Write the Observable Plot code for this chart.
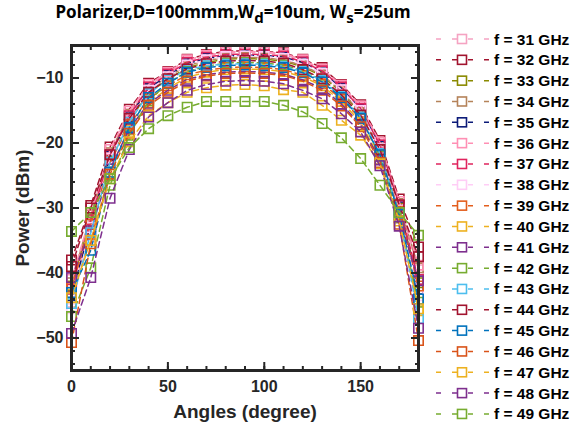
<!DOCTYPE html>
<html><head><meta charset="utf-8">
<script src="https://cdn.jsdelivr.net/npm/d3@7"></script>
<script src="https://cdn.jsdelivr.net/npm/@observablehq/plot@0.6"></script>
<style>
body{margin:0;background:#fff;}
#wrap{position:relative;width:572px;height:425px;overflow:hidden;background:#fff;}
#title{position:absolute;top:0px;left:40px;width:386px;text-align:center;font:bold 17px "Noto Sans",sans-serif;color:#000;white-space:nowrap;line-height:24px;}
#title sub{font-size:15px;vertical-align:-5px;line-height:0;}
#legend{position:absolute;left:430px;top:28px;}
#chart{position:absolute;left:0;top:0;}
</style>
</head><body>
<div id="wrap"><div id="chart"></div><div id="title">Polarizer,D=100mmm,W<sub>d</sub>=10um, W<sub>s</sub>=25um</div><div id="legend"></div></div>
<script>
const angles = [0,10,20,30,40,50,60,70,80,90,100,110,120,130,140,150,160,170,180];
const freqs = [31,32,33,34,35,36,37,38,39,40,41,42,43,44,45,46,47,48,49];
const colors = ["#f5a3c2","#a2142f","#8a8a00","#b5835a","#0b1a78","#ff8fb4","#e0245e","#ffcdf6","#e35e1d","#edb120","#7e2f8e","#77ac30","#4dbeee","#a2142f","#0072bd","#d95319","#edb120","#7e2f8e","#77ac30"];
const xTickLabels = [0,50,100,150];
const yTickLabels = [-50,-40,-30,-20,-10];

const f31 = [-44.5,-32,-21.5,-15.5,-11.3,-9.2,-7.4,-6.6,-6.1,-6.0,-6.1,-6.4,-7.3,-8.7,-11.3,-14.5,-20.2,-29.5,-39.5];
const f32 = [-38,-29.6,-20.6,-14.8,-10.8,-9.0,-7.1,-6.4,-5.9,-5.8,-5.9,-6.1,-7.1,-8.4,-11.0,-14.1,-19.6,-28.6,-36];
const f33 = [-42,-31.5,-22.5,-16.5,-12.3,-10.2,-8.4,-7.6,-7.1,-7.0,-7.1,-7.4,-8.3,-9.7,-12.2,-15.4,-21,-30,-41.5];
const f34 = [-41.5,-31,-21.5,-15.6,-11.8,-9.8,-8.1,-7.3,-6.9,-6.8,-6.9,-7.2,-8.1,-9.5,-12.0,-15.3,-20.8,-29.3,-39.2];
const f35 = [-43.5,-32.5,-22,-16,-11.6,-9.6,-7.8,-7.0,-6.6,-6.5,-6.5,-6.8,-7.6,-9.0,-11.6,-14.8,-20.5,-29.8,-42.5];
const f36 = [-41,-31,-21,-15.1,-11.0,-9.1,-7.2,-6.5,-6.0,-5.9,-6.0,-6.2,-7.2,-8.6,-11.1,-14.3,-19.9,-29,-38.8];
const f37 = [-42.5,-31.8,-21.8,-15.8,-11.4,-9.4,-7.6,-6.8,-6.4,-6.3,-6.4,-6.6,-7.5,-8.9,-11.4,-14.7,-20.3,-29.6,-41];
const f38 = [-45.5,-33,-22.3,-16.2,-11.9,-9.8,-8.0,-7.2,-6.7,-6.6,-6.7,-7.0,-7.9,-9.3,-11.8,-15.0,-20.9,-30.3,-43.5];
const f39 = [-42.2,-32.5,-23,-17.2,-13.2,-11.2,-9.5,-8.8,-8.4,-8.3,-8.4,-8.7,-9.6,-10.9,-13.2,-16.3,-21.8,-30.5,-42];
const f40 = [-43.3,-35,-24.5,-18,-13.8,-11.6,-9.9,-9.1,-8.7,-8.6,-8.7,-9.0,-9.8,-11.2,-13.6,-16.8,-22.5,-31,-45.8];
const f41 = [-40.7,-33.5,-24,-17.8,-13.9,-11.9,-10.2,-9.5,-9.1,-9.0,-9.1,-9.4,-10.3,-11.6,-14,-17.2,-22.6,-31.5,-41.2];
const f42 = [-46.7,-39.2,-26.5,-18.8,-13.5,-10.8,-9.0,-8.2,-7.7,-7.6,-7.7,-8.0,-8.9,-10.3,-12.8,-16,-22,-31.5,-44.5];
const f43 = [-44.7,-33.8,-23,-16.8,-12.4,-10.3,-8.7,-8.1,-7.9,-7.8,-7.9,-8.2,-9.0,-10.4,-12.8,-16,-21.6,-30.8,-47];
const f44 = [-39,-30,-21.8,-16.2,-12.2,-10.1,-8.6,-7.8,-7.4,-7.3,-7.4,-7.7,-8.7,-10.1,-12.6,-15.7,-21,-29.5,-37.5];
const f45 = [-43,-36.5,-24.5,-17.6,-13,-10.8,-9.1,-8.4,-8.1,-8.0,-8.1,-8.4,-9.2,-10.6,-13,-16.2,-21.8,-31,-44];
const f46 = [-50.7,-35.5,-24.8,-18.5,-14.2,-12.2,-10.5,-9.7,-9.3,-9.2,-9.3,-9.6,-10.5,-11.9,-14.3,-17.5,-23,-32.5,-50.4];
const f47 = [-43.8,-35,-25.5,-19.8,-15.8,-13.8,-12.2,-11.5,-11.1,-11.0,-11.2,-11.8,-12.2,-14.2,-16.5,-18.8,-23.2,-32,-45.5];
const f48 = [-49.3,-40.7,-28.5,-21,-16,-13.8,-11.9,-11.0,-10.5,-10.4,-10.5,-10.9,-11.9,-13.2,-15.5,-18.3,-23.5,-32.8,-48.5];
const f49 = [-33.6,-30.7,-25.5,-20.7,-17.8,-15.8,-14.5,-13.6,-13.6,-13.6,-13.6,-14.2,-15.2,-17.0,-19.2,-22.4,-26.5,-30.7,-34.2];

const seriesValues = [f31,f32,f33,f34,f35,f36,f37,f38,f39,f40,f41,f42,f43,f44,f45,f46,f47,f48,f49];
const labels = freqs.map(f => `f = ${f} GHz`);

const seriesMarks = [];
seriesValues.forEach((vals, i) => {
  const d = angles.map((a, j) => ({angle: a, power: vals[j], f: labels[i]}));
  seriesMarks.push(Plot.line(d, {x: "angle", y: "power", stroke: "f", strokeWidth: 1.5, strokeDasharray: "6,4"}));
  seriesMarks.push(Plot.dot(d, {x: "angle", y: "power", stroke: "f", symbol: "square", r: 5.3, strokeWidth: 1.6, fill: "none"}));
});

const axColor = "#262626";
const tickFont = {fontSize: 16, fontWeight: "bold", fontFamily: "Liberation Sans, Arial, sans-serif"};
const xMajor = d3.range(0, 181, 50), xMinor = d3.range(0, 181, 10);
const yMajor = d3.range(-50, -4, 10), yMinor = d3.range(-54, -4, 2);

const chart = Plot.plot({
  width: 572, height: 425,
  marginLeft: 71, marginRight: 154, marginTop: 45, marginBottom: 55,
  x: {domain: [0, 180]},
  y: {domain: [-55, -5]},
  color: {domain: labels, range: colors},
  style: {background: "white", overflow: "visible"},
  marks: [
    ...seriesMarks,
    Plot.axisX(xMinor, {anchor: "bottom", tickSize: 4, dy: -4, text: null, stroke: axColor, strokeWidth: 2, label: null}),
    Plot.axisX(xMajor, {anchor: "bottom", tickSize: 8, dy: -8, text: null, stroke: axColor, strokeWidth: 2, label: null}),
    Plot.axisX(xMinor, {anchor: "top", tickSize: 4, dy: 4, text: null, stroke: axColor, strokeWidth: 2, label: null}),
    Plot.axisX(xMajor, {anchor: "top", tickSize: 8, dy: 8, text: null, stroke: axColor, strokeWidth: 2, label: null}),
    Plot.axisY(yMinor, {anchor: "left", tickSize: 4, dx: 4, text: null, stroke: axColor, strokeWidth: 2, label: null}),
    Plot.axisY(yMajor, {anchor: "left", tickSize: 8, dx: 8, text: null, stroke: axColor, strokeWidth: 2, label: null}),
    Plot.axisY(yMinor, {anchor: "right", tickSize: 4, dx: -4, text: null, stroke: axColor, strokeWidth: 2, label: null}),
    Plot.axisY(yMajor, {anchor: "right", tickSize: 8, dx: -8, text: null, stroke: axColor, strokeWidth: 2, label: null}),
    Plot.axisX(xTickLabels, {anchor: "bottom", tickSize: 0, tickPadding: 10, fill: axColor, ...tickFont,
      label: "Angles (degree)", labelAnchor: "center", labelOffset: 47, labelArrow: "none"}),
    Plot.axisY(yTickLabels, {anchor: "left", tickSize: 0, tickPadding: 8, fill: axColor, ...tickFont,
      label: "Power (dBm)", labelAnchor: "center", labelOffset: 56, labelArrow: "none"}),
    Plot.frame({stroke: axColor, strokeWidth: 3})
  ]
});
document.getElementById("chart").appendChild(chart);
d3.select(chart).selectAll("[aria-label='x-axis label'] text, [aria-label='y-axis label'] text")
  .style("font-size", "19px").style("font-weight", "bold").style("font-family", "Liberation Sans, Arial, sans-serif").attr("fill", axColor);

// legend
const rowH = 20.83;
const lg = d3.select("#legend").append("svg").attr("width", 142).attr("height", 400);
labels.forEach((lab, i) => {
  const g = lg.append("g").attr("transform", `translate(0,${11 + i * rowH})`);
  g.append("line").attr("x1", 6).attr("x2", 60).attr("y1", 0).attr("y2", 0)
    .attr("stroke", colors[i]).attr("stroke-width", 1.5).attr("stroke-dasharray", "5,11");
  g.append("rect").attr("x", 27.5).attr("y", -4.5).attr("width", 9).attr("height", 9)
    .attr("fill", "none").attr("stroke", colors[i]).attr("stroke-width", 1.6);
  g.append("text").attr("x", 64).attr("y", 5.5).text(lab)
    .style("font", "bold 15.5px 'Liberation Sans', Arial, sans-serif").attr("fill", "#000");
});
</script>
</body></html>
